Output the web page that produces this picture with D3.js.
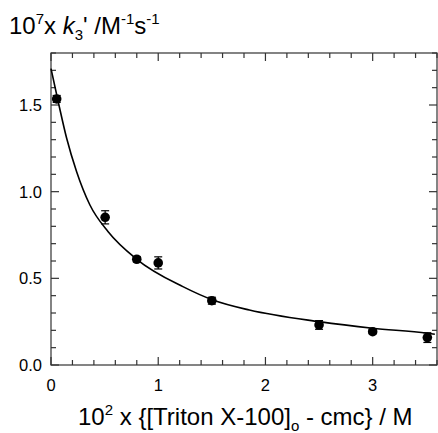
<!DOCTYPE html>
<html><head><meta charset="utf-8">
<script src="https://cdn.jsdelivr.net/npm/d3@7"></script>
<style>body{margin:0;background:#fff}svg{display:block}text{font-family:"Liberation Sans",Arial,Helvetica,sans-serif;fill:#000}</style>
</head><body><svg id="c" width="438" height="433"></svg>
<script>
// data
const pointX = [0.053, 0.505, 0.80, 1.0, 1.5, 2.5, 3.0, 3.51];
const pointY = [1.535, 0.852, 0.61, 0.589, 0.371, 0.231, 0.192, 0.158];
const pointErr = [0.02, 0.038, 0.015, 0.035, 0.02, 0.025, 0.012, 0.028];
const fitX = [0, 0.074, 0.146, 0.239, 0.363, 0.533, 0.80, 1.23, 1.51, 1.85, 2.5, 3.0, 3.51, 3.58];
const fitY = [1.71, 1.50, 1.308, 1.115, 0.923, 0.769, 0.61, 0.452, 0.375, 0.317, 0.25, 0.212, 0.183, 0.177];
const xTickLabels = [0, 1, 2, 3];
const yTickLabels = [0.0, 0.5, 1.0, 1.5];

const svg = d3.select("#c");
const L = 51, R = 437, T = 53, B = 365;
const x = d3.scaleLinear().domain([0, 3.6]).range([L, R]);
const y = d3.scaleLinear().domain([0, 1.8]).range([B, T]);

const minorX = d3.range(0, 3.6001, 0.2).map(v => +v.toFixed(2));
const minorY = d3.range(0, 1.8001, 0.1).map(v => +v.toFixed(2));
const isMajX = v => Math.abs(v - Math.round(v)) < 1e-6;
const isMajY = v => Math.abs(v * 2 - Math.round(v * 2)) < 1e-6;

const g = svg.append("g");
// frame
g.append("rect").attr("x", L).attr("y", T).attr("width", R - L).attr("height", B - T)
  .attr("fill", "none").attr("stroke", "#333").attr("stroke-width", 1.2);

// ticks inward
const tk = g.append("g").attr("stroke", "#333").attr("stroke-width", 1.2);
minorX.forEach(v => {
  const len = isMajX(v) ? 8 : 5;
  tk.append("line").attr("x1", x(v)).attr("x2", x(v)).attr("y1", B).attr("y2", B - len);
  tk.append("line").attr("x1", x(v)).attr("x2", x(v)).attr("y1", T).attr("y2", T + len);
});
minorY.forEach(v => {
  const len = isMajY(v) ? 8 : 5;
  tk.append("line").attr("y1", y(v)).attr("y2", y(v)).attr("x1", L).attr("x2", L + len);
  tk.append("line").attr("y1", y(v)).attr("y2", y(v)).attr("x1", R).attr("x2", R - len);
});

// tick labels
g.selectAll(".xl").data(xTickLabels).enter().append("text")
  .attr("x", d => x(d)).attr("y", 391).attr("text-anchor", "middle")
  .attr("font-size", 16.5).text(d => d3.format("d")(d));
g.selectAll(".yl").data(yTickLabels).enter().append("text")
  .attr("x", 42).attr("y", d => y(d) + 6).attr("text-anchor", "end")
  .attr("font-size", 16.5).text(d => d3.format(".1f")(d));

// fit curve
const line = d3.line().x(d => x(d[0])).y(d => y(d[1])).curve(d3.curveMonotoneX);
g.append("path").datum(fitX.map((v, i) => [v, fitY[i]]))
  .attr("d", line).attr("fill", "none").attr("stroke", "#000").attr("stroke-width", 1.6);

// error bars
const eb = g.append("g").attr("stroke", "#000").attr("stroke-width", 1.2);
pointX.forEach((v, i) => {
  const cx = x(v), y1 = y(pointY[i] + pointErr[i]), y2 = y(pointY[i] - pointErr[i]);
  eb.append("line").attr("x1", cx).attr("x2", cx).attr("y1", y1).attr("y2", y2);
  eb.append("line").attr("x1", cx - 4).attr("x2", cx + 4).attr("y1", y1).attr("y2", y1);
  eb.append("line").attr("x1", cx - 4).attr("x2", cx + 4).attr("y1", y2).attr("y2", y2);
});
// points
g.selectAll(".pt").data(pointX).enter().append("circle")
  .attr("cx", d => x(d)).attr("cy", (d, i) => y(pointY[i])).attr("r", 4.8).attr("fill", "#000");

// y title
const yt = svg.append("text").attr("x", 9).attr("y", 34).attr("font-size", 24);
yt.append("tspan").text("10");
yt.append("tspan").attr("font-size", 15).attr("dy", -10).text("7");
yt.append("tspan").attr("dy", 10).text("x ");
yt.append("tspan").attr("font-style", "italic").text("k");
yt.append("tspan").attr("font-size", 15).attr("dy", 6).text("3");
yt.append("tspan").attr("dy", -6).text("' /M");
yt.append("tspan").attr("font-size", 15).attr("dy", -10).text("-1");
yt.append("tspan").attr("dy", 10).text("s");
yt.append("tspan").attr("font-size", 15).attr("dy", -10).text("-1");

// x title
const xt = svg.append("text").attr("x", 78).attr("y", 425).attr("font-size", 24);
xt.append("tspan").text("10");
xt.append("tspan").attr("font-size", 15).attr("dy", -10).text("2");
xt.append("tspan").attr("dy", 10).text(" x {[Triton X-100]");
xt.append("tspan").attr("font-size", 15).attr("dy", 6).text("o");
xt.append("tspan").attr("dy", -6).text(" - cmc} / M");
</script></body></html>
